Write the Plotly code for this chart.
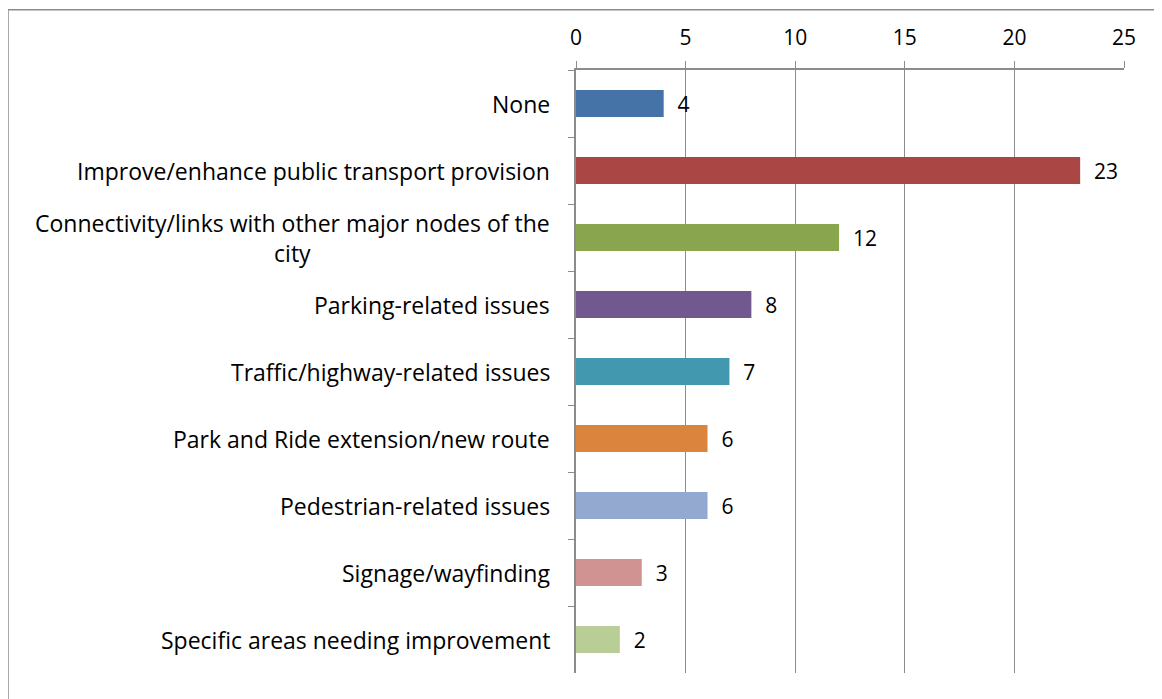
import plotly.graph_objects as go

categories = [
    "None",
    "Improve/enhance public transport provision",
    "Connectivity/links with other major nodes of the<br>city",
    "Parking-related issues",
    "Traffic/highway-related issues",
    "Park and Ride extension/new route",
    "Pedestrian-related issues",
    "Signage/wayfinding",
    "Specific areas needing improvement",
]
values = [4, 23, 12, 8, 7, 6, 6, 3, 2]
colors = ["#4572A7", "#AA4643", "#89A54E", "#71588F", "#4198AF",
          "#DB843D", "#93A9CF", "#D19392", "#B9CD96"]
x_ticks = [0, 5, 10, 15, 20, 25]

FONT = "Open Sans"
GRID = "#8c8c8c"

fig = go.Figure(go.Bar(
    y=categories,
    x=values,
    orientation="h",
    marker=dict(color=colors, line=dict(width=0)),
    width=0.4,
    text=["\u00a0\u00a0" + str(v) for v in values],
    textposition="outside",
    constraintext="none",
    textfont=dict(family=FONT, size=21, color="black"),
    cliponaxis=False,
))

for c in categories:
    fig.add_annotation(
        x=0, xref="paper", y=c, yref="y",
        text=c, showarrow=False, xanchor="right", align="center",
        xshift=-24, font=dict(family=FONT, size=23, color="black"),
    )

# outer chart border
fig.add_shape(type="rect", xref="paper", yref="paper",
              x0=-1.0365, x1=1.2, y0=-0.2, y1=1.1,
              line=dict(color="#8c8c8c", width=1.5), layer="below")

fig.update_layout(
    width=1162, height=699,
    margin=dict(l=568, r=46, t=62, b=34),
    paper_bgcolor="white", plot_bgcolor="white",
    showlegend=False,
    font=dict(family=FONT, size=21, color="black"),
    xaxis=dict(
        side="top", range=[0, 25], tickvals=x_ticks,
        showgrid=True, gridcolor=GRID, gridwidth=1,
        showline=True, linecolor=GRID, linewidth=1.5,
        ticks="outside", ticklen=7, tickcolor=GRID,
        ticklabelstandoff=8,
        tickfont=dict(family=FONT, size=21, color="black"),
        zeroline=False, fixedrange=True,
    ),
    yaxis=dict(
        autorange="reversed", showticklabels=False,
        showline=True, linecolor=GRID, linewidth=1.5,
        ticks="outside", ticklen=6, tickcolor=GRID, tickson="boundaries",
        showgrid=False, zeroline=False,
    ),
)

fig.write_html("out.html")
